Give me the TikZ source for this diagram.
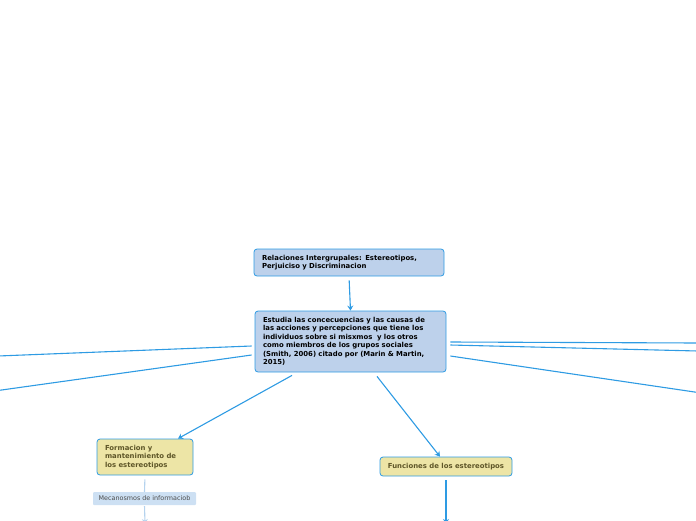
\documentclass[tikz,border=0pt]{standalone}
\usepackage{fontspec}
\setmainfont{DejaVu Sans}
\usetikzlibrary{arrows.meta}

\definecolor{bordo}{HTML}{2E9BE3}
\definecolor{azzurro}{HTML}{BDD1EB}
\definecolor{azzurrino}{HTML}{CDE0F3}
\definecolor{giallo}{HTML}{EDE5A6}
\definecolor{oliva}{HTML}{5E5628}
\definecolor{sbiadito}{HTML}{B5D3EE}

\tikzset{
  nodoblu/.style={draw=bordo, fill=azzurro, rounded corners=3pt, line width=0.8pt,
    font=\fontsize{6.9}{8.5}\selectfont\bfseries, align=left, inner sep=0pt},
  nodogiallo/.style={draw=bordo, fill=giallo, rounded corners=3pt, line width=0.8pt,
    text=oliva, font=\fontsize{6.9}{8.5}\selectfont\bfseries, align=left, inner sep=0pt},
  nodopiccolo/.style={fill=azzurrino, rounded corners=1pt, text=black!70,
    font=\fontsize{6.4}{7}\selectfont, inner sep=0pt},
  freccia/.style={draw=bordo, line width=1.1pt, -{Stealth[length=5pt,width=6pt]}},
  linea/.style={draw=bordo, line width=1.1pt},
  fioca/.style={draw=sbiadito, line width=1.1pt}
}

\begin{document}
\begin{tikzpicture}[x=1pt, y=-1pt]
        % riquadro = dimensioni della figura
        \useasboundingbox (0,0) rectangle (696,520);

        % nodi principali
        \node[nodoblu, minimum width=190pt, minimum height=27pt, text width=174pt] (titolo) at (349,262.5)
        {Relaciones Intergrupales: Estereotipos,\\ Perjuiciso y Discriminacion};
        \node[nodoblu, minimum width=191pt, minimum height=61pt, text width=175pt] (studia) at (350.5,341.5)
        {Estudia las concecuencias y las causas de\\ las acciones y percepciones que tiene los\\ individuos sobre si misxmos\ \ y los otros\\ como miembros de los grupos sociales\\ (Smith, 2006) citado por (Marin \& Martin,\\ 2015)};

        % rami in basso
        \node[nodogiallo, minimum width=96pt, minimum height=36pt, text width=80pt] (formazione) at (145,457)
        {Formacion y\\ mantenimiento de\\ los estereotipos};
        \node[nodogiallo, minimum width=132pt, minimum height=19pt, align=center] (funzioni) at (446,466.5)
        {Funciones de los estereotipos};
        \node[nodopiccolo, minimum width=103pt, minimum height=13pt] (meccanismi) at (144.5,498.5)
        {Mecanosmos de informaciob};

        % estremi liberi (fuori dal riquadro)
        \coordinate (sx1) at (-2,356);
        \coordinate (sx2) at (-2,390.5);
        \coordinate (dx1) at (698,343);
        \coordinate (dx2) at (698,351);
        \coordinate (dx3) at (698,392.5);
        \coordinate (giu1) at (145,524);
        \coordinate (giu2) at (446,524);

        % connessioni
        \draw[freccia, shorten <=4pt] (titolo.south) -- (studia.north);
        \draw[linea] ([xshift=-3pt,yshift=-4.5pt]studia.west) -- (sx1);
        \draw[linea] ([xshift=-3pt,yshift=-13.5pt]studia.west) -- (sx2);
        \draw[linea] ([xshift=4pt,yshift=-0.5pt]studia.east) -- (dx1);
        \draw[linea] ([xshift=4pt,yshift=-3.5pt]studia.east) -- (dx2);
        \draw[linea] ([xshift=4pt,yshift=-14.5pt]studia.east) -- (dx3);
        \draw[freccia] ([xshift=-58.5pt,yshift=-3pt]studia.south) -- ([xshift=33pt]formazione.north);
        \draw[freccia] ([xshift=26.5pt,yshift=-4pt]studia.south) -- ([xshift=-6pt]funzioni.north);
        \draw[freccia, shorten <=4pt] (funzioni.south) -- (giu2);
        \draw[fioca, shorten <=4pt] (formazione.south) -- (meccanismi.north);
        \draw[fioca, -{Stealth[length=5pt,width=6pt]}, shorten <=1pt] (meccanismi.south) -- (giu1);
\end{tikzpicture}
\end{document}
